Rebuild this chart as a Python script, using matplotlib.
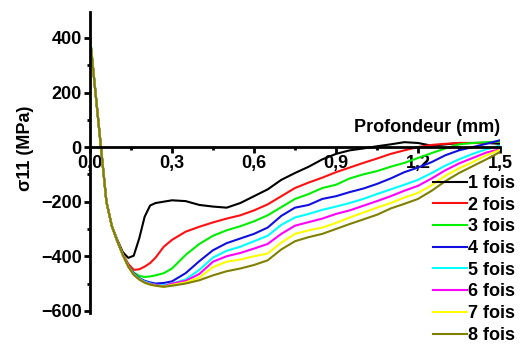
import numpy as np
import matplotlib
matplotlib.use("Agg")
import matplotlib.pyplot as plt
from matplotlib.ticker import MultipleLocator

plt.rcParams['font.family'] = ['Liberation Sans', 'DejaVu Sans']
plt.rcParams['font.weight'] = 'bold'

depth = [0, 0.02, 0.04, 0.06, 0.08, 0.10, 0.12, 0.14, 0.16, 0.18, 0.20, 0.22, 0.24,
         0.27, 0.30, 0.35, 0.40, 0.45, 0.50, 0.55, 0.60, 0.65, 0.70, 0.75, 0.80,
         0.85, 0.90, 0.95, 1.00, 1.05, 1.10, 1.15, 1.20, 1.25, 1.30, 1.35, 1.40,
         1.45, 1.50]

s1 = [400, 200, 0, -200, -290, -340, -385, -406, -398, -335, -255, -214, -205,
      -200, -195, -198, -212, -218, -222, -205, -180, -155, -120, -95, -72,
      -45, -25, -12, -5, 3, 10, 18, 15, 5, 10, 15, 15, 15, 12]
s2 = [400, 200, 0, -200, -290, -345, -392, -428, -450, -448, -438, -425, -405,
      -365, -340, -310, -292, -276, -262, -250, -232, -210, -180, -150, -130,
      -112, -92, -75, -58, -42, -25, -12, 0, 8, 12, 15, 15, 15, 20]
s3 = [410, 205, 0, -200, -290, -345, -395, -435, -460, -472, -476, -474, -470,
      -462, -445, -395, -355, -325, -305, -290, -272, -250, -220, -190, -172,
      -150, -138, -115, -100, -88, -72, -58, -40, -22, -5, 10, 15, 18, 20]
s4 = [400, 200, 0, -200, -290, -345, -395, -435, -462, -480, -490, -496, -500,
      -498, -492, -462, -418, -378, -352, -335, -318, -295, -252, -222, -212,
      -190, -180, -165, -152, -135, -115, -92, -75, -55, -30, -12, 0, 12, 25]
s5 = [400, 200, 0, -200, -290, -345, -395, -437, -465, -482, -493, -500, -505,
      -506, -500, -485, -450, -405, -380, -365, -345, -325, -285, -258, -245,
      -230, -218, -205, -190, -172, -155, -138, -120, -95, -68, -45, -25, -8, 5]
s6 = [400, 200, 0, -200, -290, -345, -395, -438, -468, -485, -496, -502, -505,
      -510, -500, -490, -465, -420, -400, -388, -372, -355, -318, -288, -275,
      -262, -245, -232, -215, -198, -180, -160, -142, -115, -85, -60, -40, -20, -8]
s7 = [400, 200, 0, -200, -290, -345, -395, -438, -468, -485, -497, -504, -508,
      -512, -505, -496, -478, -440, -420, -412, -400, -390, -350, -318, -305,
      -295, -278, -258, -240, -222, -205, -185, -168, -140, -105, -78, -55, -30, -10]
s8 = [400, 200, 0, -200, -290, -345, -395, -438, -468, -485, -497, -504, -508,
      -512, -508, -500, -488, -470, -455, -445, -432, -415, -375, -345, -330,
      -318, -300, -282, -265, -248, -225, -208, -190, -160, -125, -95, -70, -45, -18]

series = [s1, s2, s3, s4, s5, s6, s7, s8]
labels = ["1 fois", "2 fois", "3 fois", "4 fois", "5 fois", "6 fois", "7 fois", "8 fois"]
colors = ["#000000", "#ff1010", "#00ee00", "#1010e0", "#00ffff", "#ff00ff", "#ffff00", "#808000"]

xticks = [0, 0.3, 0.6, 0.9, 1.2, 1.5]
xticklabels = ["0,0", "0,3", "0,6", "0,9", "1,2", "1,5"]
yticks = [-600, -400, -200, 0, 200, 400]

fig = plt.figure(figsize=(5.24, 3.47), dpi=100)
ax = fig.add_axes([90 / 524, 1 - 313 / 347, 410 / 524, 301 / 347])

for s, lab, c in zip(series, labels, colors):
    ax.plot(depth, s, color=c, linewidth=1.5, label=lab)

ax.set_xlim(0, 1.5)
ax.set_ylim(-608, 495)

ax.spines['top'].set_visible(False)
ax.spines['right'].set_visible(False)
ax.spines['bottom'].set_position(('data', 0))
ax.spines['left'].set_linewidth(2.0)
ax.spines['bottom'].set_linewidth(2.0)

ax.set_xticks(xticks)
ax.set_xticklabels(xticklabels)
ax.set_yticks(yticks)
ax.xaxis.set_minor_locator(MultipleLocator(0.15))
ax.yaxis.set_minor_locator(MultipleLocator(100))
ax.tick_params(which='major', direction='out', length=4.5, width=2, labelsize=13, pad=1.5)
ax.tick_params(which='minor', direction='out', length=2.5, width=2)

ax.text(1.5, 72, "Profondeur (mm)", ha='right', va='center', fontsize=13, fontweight='bold')
fig.text(26 / 524, 1 - 148 / 347, "σ11 (MPa)", rotation=90, ha='center', va='center',
         fontsize=13, fontweight='bold')

ax.legend(loc='upper left', bbox_to_anchor=(433 / 524, 1 - 175 / 347),
          bbox_transform=fig.transFigure, frameon=False, fontsize=13,
          handlelength=1.9, handletextpad=0.05, labelspacing=0.26,
          borderpad=0, borderaxespad=0)

fig.savefig("out.png", dpi=100)
